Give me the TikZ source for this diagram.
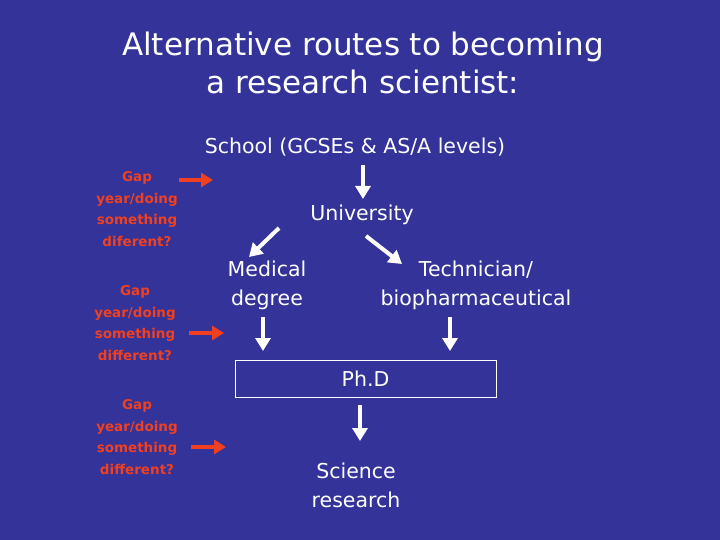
\documentclass[tikz,border=0pt]{standalone}
\usepackage{fontspec}
\setmainfont{DejaVu Sans}
\usetikzlibrary{arrows.meta}
\definecolor{slideblue}{RGB}{51,51,153}
\definecolor{gapred}{RGB}{240,64,32}
\tikzset{
  flow/.style={white,line width=4pt,-{Triangle[width=15pt,length=13pt]}},
  gaparrow/.style={gapred,line width=4pt,-{Triangle[width=14pt,length=12pt]}},
  stage/.style={white,font=\fontsize{20.5}{29}\selectfont,align=center,inner sep=0pt},
  gap/.style={gapred,font=\fontsize{13.5}{21.5}\selectfont\bfseries,align=center,inner sep=0pt}
}
\begin{document}
\begin{tikzpicture}[x=1pt,y=-1pt]
\fill[slideblue] (0,0) rectangle (720,540);
\useasboundingbox (0,0) rectangle (720,540);

% title
\node[white,font=\fontsize{31}{38}\selectfont,align=center] (title) at (363,63) {Alternative routes to becoming\\a research scientist:};

% main route
\node[stage] (school) at (355,147) {School (GCSEs \& AS/A levels)};
\node[stage] (uni) at (362,215) {University};
\node[stage] (med) at (267,285) {Medical\\degree};
\node[stage] (tech) at (476,285) {Technician/\\biopharmaceutical};
\node[stage,draw,line width=1pt,minimum width=261pt,minimum height=37pt] (phd) at (365.5,378.5) {Ph.D};
\node[stage] (sci) at (356,485) {Science\\research};

\coordinate (s1) at (363,165); \coordinate (s2) at (363,199);
\draw[flow] (s1) -- (s2);
\coordinate (u1) at (279,228); \coordinate (u2) at (249,257);
\draw[flow] (u1) -- (u2);
\coordinate (u3) at (366,236); \coordinate (u4) at (402,264);
\draw[flow] (u3) -- (u4);
\coordinate (m1) at (263,317); \coordinate (m2) at (263,351);
\draw[flow] (m1) -- (m2);
\coordinate (t1) at (450,317); \coordinate (t2) at (450,351);
\draw[flow] (t1) -- (t2);
\coordinate (p1) at (360,405); \coordinate (p2) at (360,441);
\draw[flow] (p1) -- (p2);

% gap years
\node[gap] (gapA) at (137,209) {Gap\\year/doing\\something\\diferent?};
\node[gap] (gapB) at (135,323) {Gap\\year/doing\\something\\different?};
\node[gap] (gapC) at (137,437) {Gap\\year/doing\\something\\different?};
\coordinate (g1) at (179,180); \coordinate (g2) at (213,180);
\draw[gaparrow] (g1) -- (g2);
\coordinate (g3) at (189,333); \coordinate (g4) at (224,333);
\draw[gaparrow] (g3) -- (g4);
\coordinate (g5) at (191,447); \coordinate (g6) at (226,447);
\draw[gaparrow] (g5) -- (g6);
\end{tikzpicture}
\end{document}
